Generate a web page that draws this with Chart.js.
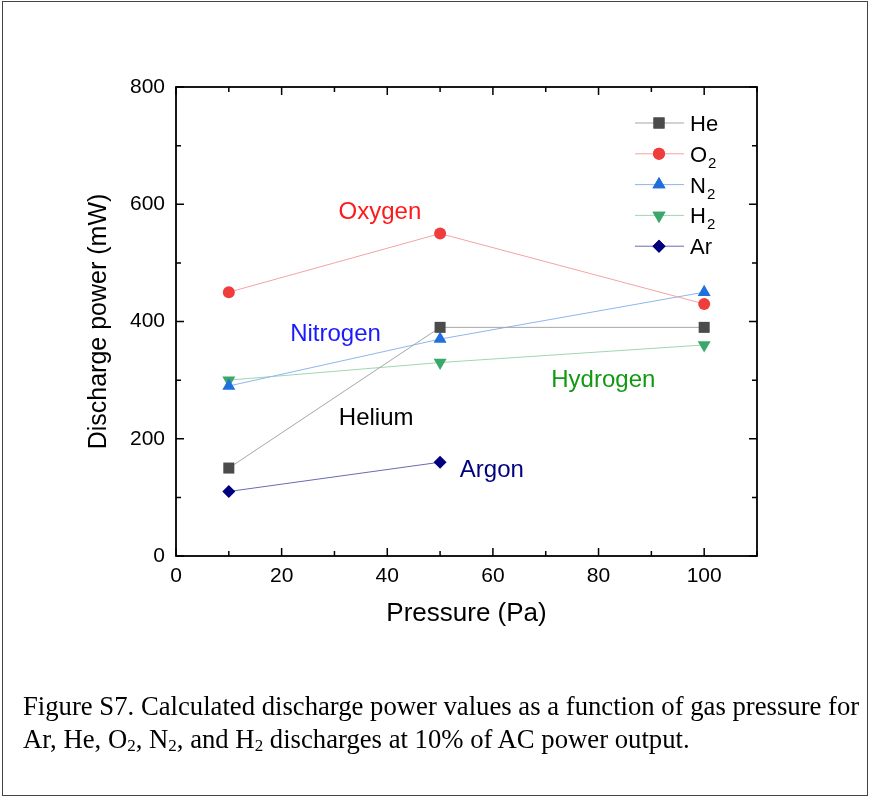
<!DOCTYPE html>
<html>
<head>
<meta charset="utf-8">
<script src="https://cdn.jsdelivr.net/npm/chart.js@4"></script>
<style>
  html, body { margin: 0; padding: 0; background: #fff; }
  #wrap { position: relative; width: 870px; height: 797px; overflow: hidden; }
  #frame { position: absolute; left: 2px; top: 1px; width: 864px; height: 793px; border: 1px solid #444; box-sizing: content-box; }
  canvas { position: absolute; left: 0; top: 0; }
  #caption { position: absolute; left: 23px; top: 690px; width: 845px; font-family: "Liberation Serif", "Times New Roman", serif; font-size: 26.7px; line-height: 33px; color: #000; white-space: nowrap; }
  #caption sub { font-size: 17px; vertical-align: -3px; line-height: 0; }
</style>
</head>
<body>
<div id="wrap">
  <div id="frame"></div>
  <canvas id="c" width="870" height="797"></canvas>
  <div id="caption">Figure S7. Calculated discharge power values as a function of gas pressure for<br>Ar, He, O<sub>2</sub>, N<sub>2</sub>, and H<sub>2</sub> discharges at 10% of AC power output.</div>
</div>
<script>
// ---- data ----
const pressureHe = [10, 50, 100];
const powerHe = [150, 390, 390];
const pressureO2 = [10, 50, 100];
const powerO2 = [450, 550, 430];
const pressureN2 = [10, 50, 100];
const powerN2 = [290, 370, 450];
const pressureH2 = [10, 50, 100];
const powerH2 = [300, 330, 360];
const pressureAr = [10, 50];
const powerAr = [110, 160];

const seriesNames = ['He', 'O2', 'N2', 'H2', 'Ar'];

const xTickValues = [0, 20, 40, 60, 80, 100];
const yTickValues = [0, 200, 400, 600, 800];

const annotationTexts = ['Oxygen', 'Nitrogen', 'Hydrogen', 'Helium', 'Argon'];
const annotationX = [38.6, 30.2, 80.9, 37.9, 59.8];
const annotationY = [575, 367, 288, 224, 135];

// ---- styles ----
const annotationColors = ['#ff1a1a', '#1a1aff', '#119a11', '#000000', '#000080'];
const markerColors = ['#4b4b4b', '#ef3c3c', '#1f6fdc', '#3aa86a', '#00007f'];
const lineColors = ['#a6a6a6', '#f5a3a3', '#8fb5ee', '#9fd6b3', '#6a6ab3'];
const pointStyles = ['rect', 'circle', 'triangle', 'triangle', 'rectRot'];
const pointRotations = [0, 0, 0, 180, 0];
const pointRadii = [7.8, 6, 7.5, 7.5, 6.5];

function toPoints(xs, ys) { return xs.map((x, i) => ({ x: x, y: ys[i] })); }
const seriesData = [
  toPoints(pressureHe, powerHe),
  toPoints(pressureO2, powerO2),
  toPoints(pressureN2, powerN2),
  toPoints(pressureH2, powerH2),
  toPoints(pressureAr, powerAr)
];

const datasets = seriesNames.map((name, i) => ({
  label: name,
  data: seriesData[i],
  borderColor: lineColors[i],
  borderWidth: 1,
  backgroundColor: markerColors[i],
  pointBackgroundColor: markerColors[i],
  pointBorderColor: markerColors[i],
  pointBorderWidth: 0,
  pointStyle: pointStyles[i],
  rotation: pointRotations[i],
  pointRadius: pointRadii[i],
  pointHoverRadius: pointRadii[i],
  tension: 0,
  fill: false
}));

const SANS = '"Liberation Sans", Arial, Helvetica, sans-serif';

function drawLabelWithSub(ctx, text, x, y, size, color) {
  // trailing digits become subscript
  const m = text.match(/^(.*?)(\d+)$/);
  ctx.fillStyle = color;
  ctx.textAlign = 'left';
  ctx.textBaseline = 'alphabetic';
  ctx.font = size + 'px ' + SANS;
  if (!m) { ctx.fillText(text, x, y); return; }
  ctx.fillText(m[1], x, y);
  const w = ctx.measureText(m[1]).width;
  ctx.font = Math.round(size * 0.68) + 'px ' + SANS;
  ctx.fillText(m[2], x + w + 1, y + 6);
}

const decorPlugin = {
  id: 'decor',
  afterDatasetsDraw(chart) {
    const ctx = chart.ctx;
    const a = chart.chartArea;
    const xs = chart.scales.x, ys = chart.scales.y;
    ctx.save();
    // frame
    ctx.strokeStyle = '#000';
    ctx.lineWidth = 1.8;
    ctx.strokeRect(a.left, a.top, a.right - a.left, a.bottom - a.top);
    // ticks (inward) on all four sides
    ctx.lineWidth = 1.5;
    const major = 8, minor = 5;
    const xMajor = xs.ticks.map(t => t.value);
    const xMinor = [];
    for (let i = 0; i < xMajor.length; i++) {
      const step = xMajor.length > 1 ? xMajor[1] - xMajor[0] : 20;
      const v = xMajor[i] + step / 2;
      if (v <= xs.max) xMinor.push(v);
    }
    const yMajor = ys.ticks.map(t => t.value);
    const yMinor = [];
    for (let i = 0; i < yMajor.length - 1; i++) yMinor.push((yMajor[i] + yMajor[i + 1]) / 2);
    ctx.beginPath();
    xMajor.forEach(v => { const p = xs.getPixelForValue(v);
      ctx.moveTo(p, a.bottom); ctx.lineTo(p, a.bottom - major);
      ctx.moveTo(p, a.top); ctx.lineTo(p, a.top + major); });
    xMinor.forEach(v => { const p = xs.getPixelForValue(v);
      ctx.moveTo(p, a.bottom); ctx.lineTo(p, a.bottom - minor);
      ctx.moveTo(p, a.top); ctx.lineTo(p, a.top + minor); });
    yMajor.forEach(v => { const p = ys.getPixelForValue(v);
      ctx.moveTo(a.left, p); ctx.lineTo(a.left + major, p);
      ctx.moveTo(a.right, p); ctx.lineTo(a.right - major, p); });
    yMinor.forEach(v => { const p = ys.getPixelForValue(v);
      ctx.moveTo(a.left, p); ctx.lineTo(a.left + minor, p);
      ctx.moveTo(a.right, p); ctx.lineTo(a.right - minor, p); });
    ctx.stroke();

    // annotations
    ctx.font = '24px ' + SANS;
    ctx.textAlign = 'center';
    ctx.textBaseline = 'alphabetic';
    annotationTexts.forEach((t, i) => {
      ctx.fillStyle = annotationColors[i];
      ctx.fillText(t, xs.getPixelForValue(annotationX[i]), ys.getPixelForValue(annotationY[i]));
    });

    // legend (top-right inside plot)
    const lx0 = a.right - 122, lx1 = a.right - 73, mx = a.right - 98, tx = a.right - 67;
    let ly = a.top + 36;
    const gap = 30.8;
    chart.data.datasets.forEach((ds, i) => {
      ctx.strokeStyle = ds.borderColor;
      ctx.lineWidth = 1;
      ctx.beginPath(); ctx.moveTo(lx0, ly); ctx.lineTo(lx1, ly); ctx.stroke();
      ctx.fillStyle = ds.pointBackgroundColor;
      Chart.helpers.drawPoint(ctx, { pointStyle: ds.pointStyle, rotation: ds.rotation, radius: ds.pointRadius, borderWidth: 0 }, mx, ly);
      ctx.fill();
      drawLabelWithSub(ctx, ds.label, tx, ly + 8, 22, '#000');
      ly += gap;
    });
    ctx.restore();
  }
};

new Chart(document.getElementById('c'), {
  type: 'line',
  data: { datasets: datasets },
  options: {
    responsive: false,
    animation: false,
    devicePixelRatio: 1,
    layout: { padding: { left: 60, top: 87, right: 113, bottom: 161 } },
    plugins: { legend: { display: false }, tooltip: { enabled: false } },
    scales: {
      x: {
        type: 'linear', min: 0, max: 110,
        afterBuildTicks: s => { s.ticks = xTickValues.map(v => ({ value: v })); },
        ticks: { font: { family: SANS, size: 21 }, color: '#000', padding: 8, maxRotation: 0, autoSkip: false },
        grid: { display: false, drawTicks: false },
        border: { display: false },
        title: { display: true, text: 'Pressure (Pa)', font: { family: SANS, size: 26 }, color: '#000', padding: { top: 4, bottom: 7 } },
        afterFit: s => { s.height = 80; }
      },
      y: {
        type: 'linear', min: 0, max: 800,
        afterBuildTicks: s => { s.ticks = yTickValues.map(v => ({ value: v })); },
        ticks: { font: { family: SANS, size: 21 }, color: '#000', padding: 11, autoSkip: false },
        grid: { display: false, drawTicks: false },
        border: { display: false },
        title: { display: true, text: 'Discharge power (mW)', font: { family: SANS, size: 25 }, color: '#000', padding: { top: 24, bottom: 0 } },
        afterFit: s => { s.width = 116; }
      }
    }
  },
  plugins: [decorPlugin]
});
</script>
</body>
</html>
